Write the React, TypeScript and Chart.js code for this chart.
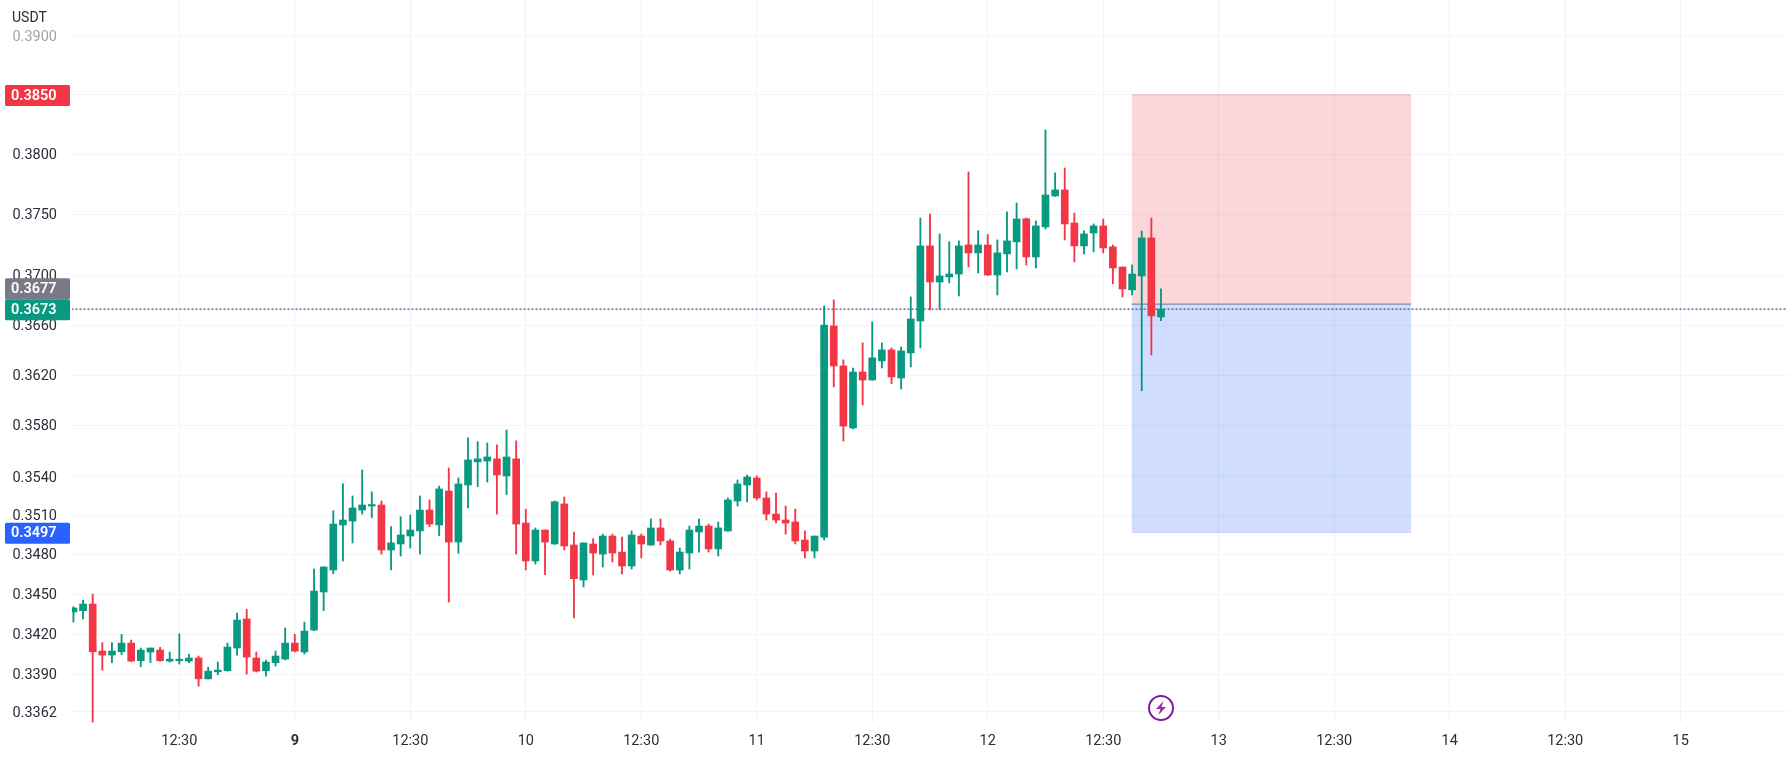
import React, { useEffect, useRef } from "react";
import { Chart, registerables } from "chart.js";

Chart.register(...registerables);

const opens = [
  0.34366, 0.34376, 0.34426, 0.34072, 0.34042, 0.34067, 0.34132, 0.34, 0.34065, 0.3408,
  0.33997, 0.34, 0.33997, 0.3402, 0.33865, 0.33917, 0.33925, 0.34095, 0.34313, 0.3402,
  0.33925, 0.33985, 0.34012, 0.34132, 0.34065, 0.3423, 0.34517, 0.34684, 0.35029, 0.35059,
  0.35144, 0.35175, 0.35183, 0.34837, 0.34883, 0.34944, 0.34983, 0.35144, 0.35029, 0.35291,
  0.34898, 0.35338, 0.35518, 0.35525, 0.35541, 0.35408, 0.35541, 0.35044, 0.34753, 0.3499,
  0.34883, 0.35191, 0.34875, 0.34608, 0.34883, 0.34806, 0.34944, 0.34821, 0.34715, 0.34944,
  0.34875, 0.35006, 0.34906, 0.34684, 0.34814, 0.34975, 0.35021, 0.34845, 0.34983, 0.35214,
  0.35338, 0.35392, 0.35237, 0.35113, 0.35067, 0.35052, 0.34913, 0.34829, 0.34936, 0.36594,
  0.36274, 0.35783, 0.36226, 0.36162, 0.36314, 0.36402, 0.36178, 0.36378, 0.36634, 0.37243,
  0.36949, 0.3699, 0.37014, 0.37251, 0.37186, 0.37251, 0.37006, 0.37178, 0.37276, 0.37466,
  0.37153, 0.37399, 0.37654, 0.37704, 0.37431, 0.37243, 0.37349, 0.37407, 0.37235, 0.37071,
  0.36885, 0.36998, 0.37309, 0.36666,
];

const closes = [
  0.34396, 0.34426, 0.34067, 0.34042, 0.34072, 0.34132, 0.33997, 0.3408, 0.34095, 0.34,
  0.34012, 0.34005, 0.3402, 0.33865, 0.33922, 0.3393, 0.34102, 0.34305, 0.34027, 0.33922,
  0.3399, 0.34035, 0.34132, 0.34072, 0.34222, 0.34524, 0.34707, 0.35036, 0.35067, 0.3516,
  0.35183, 0.35183, 0.34837, 0.34891, 0.34952, 0.3499, 0.35144, 0.35036, 0.35307, 0.34898,
  0.35346, 0.35533, 0.35541, 0.35556, 0.35416, 0.35556, 0.35036, 0.34753, 0.3499, 0.34898,
  0.35208, 0.34868, 0.34618, 0.34891, 0.34814, 0.34944, 0.34814, 0.34715, 0.34952, 0.34883,
  0.35006, 0.34906, 0.34684, 0.34821, 0.3499, 0.35021, 0.34845, 0.35006, 0.35222, 0.35346,
  0.354, 0.35237, 0.35113, 0.35067, 0.35044, 0.34906, 0.34829, 0.34944, 0.36602, 0.36274,
  0.35798, 0.36226, 0.36162, 0.36339, 0.36402, 0.36187, 0.36394, 0.3665, 0.37243, 0.36949,
  0.36998, 0.37014, 0.37243, 0.37186, 0.37251, 0.37006, 0.37186, 0.37284, 0.37464, 0.37153,
  0.37407, 0.37662, 0.37704, 0.37423, 0.37243, 0.37341, 0.37407, 0.37227, 0.37063, 0.36893,
  0.37014, 0.37309, 0.36675, 0.3673,
];

const highs = [
  0.34406, 0.34456, 0.34501, 0.34135, 0.34135, 0.34198, 0.34155, 0.34095, 0.34095, 0.341,
  0.34065, 0.34202, 0.3405, 0.34035, 0.33952, 0.3399, 0.34132, 0.34357, 0.34386, 0.34065,
  0.34005, 0.34072, 0.34245, 0.34198, 0.3429, 0.34692, 0.3471, 0.35138, 0.35348, 0.35253,
  0.35455, 0.35284, 0.35214, 0.35016, 0.35092, 0.35105, 0.35253, 0.35222, 0.3533, 0.3547,
  0.35392, 0.35705, 0.35676, 0.35666, 0.3565, 0.35767, 0.35682, 0.3515, 0.35006, 0.3499,
  0.35215, 0.35245, 0.34975, 0.34891, 0.34924, 0.34959, 0.34959, 0.34936, 0.34983, 0.34959,
  0.35075, 0.35075, 0.34921, 0.34852, 0.35021, 0.35075, 0.35036, 0.35052, 0.35237, 0.35377,
  0.35416, 0.35408, 0.35284, 0.35276, 0.35175, 0.35152, 0.34983, 0.34944, 0.36755, 0.36804,
  0.36323, 0.36258, 0.36458, 0.36626, 0.36458, 0.36418, 0.36426, 0.36828, 0.37472, 0.37505,
  0.37341, 0.37278, 0.37284, 0.37853, 0.37368, 0.37336, 0.37292, 0.37522, 0.37596, 0.37472,
  0.37448, 0.38204, 0.37845, 0.37886, 0.37513, 0.37366, 0.37423, 0.37464, 0.37251, 0.37071,
  0.37088, 0.37366, 0.37472, 0.36893,
];

const lows = [
  0.3429, 0.34313, 0.33545, 0.3393, 0.33985, 0.34045, 0.33992, 0.33955, 0.33985, 0.33997,
  0.3399, 0.33975, 0.33985, 0.33811, 0.33863, 0.33895, 0.33922, 0.34042, 0.339, 0.33915,
  0.33885, 0.3396, 0.34007, 0.34065, 0.3405, 0.34225, 0.34376, 0.34656, 0.34753, 0.34891,
  0.35113, 0.35085, 0.34806, 0.34684, 0.34791, 0.34852, 0.34806, 0.35016, 0.34947, 0.34441,
  0.34812, 0.3516, 0.35325, 0.35361, 0.35113, 0.35263, 0.34806, 0.34684, 0.3473, 0.34648,
  0.3488, 0.34837, 0.34321, 0.34555, 0.34646, 0.34707, 0.34745, 0.34654, 0.34692, 0.34776,
  0.34872, 0.34875, 0.34676, 0.34654, 0.34692, 0.34821, 0.34821, 0.34791, 0.3498, 0.35175,
  0.35207, 0.35222, 0.35067, 0.35044, 0.34959, 0.34883, 0.34776, 0.34776, 0.34913, 0.36107,
  0.35681, 0.35775, 0.35964, 0.3616, 0.36258, 0.36132, 0.36091, 0.36266, 0.36418, 0.36723,
  0.36725, 0.36943, 0.36836, 0.37071, 0.37022, 0.37002, 0.36844, 0.3703, 0.37055, 0.37088,
  0.37063, 0.37382, 0.3765, 0.37292, 0.37113, 0.37178, 0.37194, 0.37186, 0.36934, 0.36828,
  0.36844, 0.36077, 0.36362, 0.36636,
];

const yTickValues = [0.39, 0.385, 0.38, 0.375, 0.37, 0.366, 0.362, 0.358, 0.354, 0.351, 0.348, 0.345, 0.342, 0.339, 0.3362];
const xTickBars = [11, 23, 35, 47, 59, 71, 83, 95, 107, 119, 131, 143, 155, 167];
const xTickLabels = ["12:30", "9", "12:30", "10", "12:30", "11", "12:30", "12", "12:30", "13", "12:30", "14", "12:30", "15"];

const positionStartBar = 109.95;
const positionEndBar = 139;
const stopPrice = 0.385;
const entryPrice = 0.3677;
const targetPrice = 0.3497;
const lastPrice = 0.3673;
const signalBar = 113;

const UP = "#089981";
const DOWN = "#F23645";
const FONT = "Roboto, 'Liberation Sans', sans-serif";

const zeroPadding = (s: any) => {
  s.paddingTop = 0;
  s.paddingBottom = 0;
  s.paddingLeft = 0;
  s.paddingRight = 0;
};

const overlayPlugin = {
  id: "overlay",
  afterDraw(chart: any) {
    const { ctx, scales } = chart;
    const y = scales.y;
    const x = scales.x;
    ctx.save();

    // Axis unit
    ctx.fillStyle = "#2a2e39";
    ctx.font = `14px ${FONT}`;
    ctx.textAlign = "left";
    ctx.textBaseline = "middle";
    ctx.fillText("USDT", 12, 18);

    // Price badges
    const badges = [
      { value: stopPrice, color: "#F23645", shift: 0 },
      { value: entryPrice, color: "#787B86", shift: -16 },
      { value: lastPrice, color: "#089981", shift: 0 },
      { value: targetPrice, color: "#2962FF", shift: 0 },
    ];
    for (const b of badges) {
      const cy = y.getPixelForValue(b.value) + b.shift + 0.7;
      ctx.fillStyle = b.color;
      ctx.beginPath();
      ctx.roundRect(5, cy - 10.5, 65, 21, 1.5);
      ctx.fill();
      ctx.fillStyle = "#ffffff";
      ctx.font = `600 14.5px ${FONT}`;
      ctx.textAlign = "left";
      ctx.textBaseline = "middle";
      ctx.fillText(b.value.toFixed(4), 11, cy + 0.5);
    }

    // Signal icon
    const ix = x.getPixelForValue(signalBar);
    const iy = 708;
    ctx.strokeStyle = "#7B1FA2";
    ctx.lineWidth = 2;
    ctx.beginPath();
    ctx.arc(ix, iy, 12, 0, Math.PI * 2);
    ctx.stroke();
    ctx.fillStyle = "#9C27B0";
    ctx.beginPath();
    ctx.moveTo(ix + 2.5, iy - 7);
    ctx.lineTo(ix - 5, iy + 1);
    ctx.lineTo(ix - 0.5, iy + 1);
    ctx.lineTo(ix - 2.5, iy + 7);
    ctx.lineTo(ix + 5, iy - 1);
    ctx.lineTo(ix + 0.5, iy - 1);
    ctx.closePath();
    ctx.fill();
    ctx.restore();
  },
};

export default function App() {
  const ref = useRef<HTMLCanvasElement | null>(null);

  useEffect(() => {
    document.body.style.margin = "0";
    document.body.style.background = "#ffffff";
    const bars = opens.map((_, i) => i);
    const colors = bars.map((i) => (closes[i] >= opens[i] ? UP : DOWN));
    const zone = (value: number) => [
      { x: positionStartBar, y: value },
      { x: positionEndBar, y: value },
    ];
    const chart = new Chart(ref.current as HTMLCanvasElement, {
      type: "bar",
      data: {
        datasets: [
          {
            type: "line",
            data: zone(stopPrice),
            fill: { value: entryPrice },
            backgroundColor: "rgba(242,54,69,0.2)",
            borderColor: "rgba(242,54,69,0.3)",
            borderWidth: 1,
            pointRadius: 0,
            order: 5,
          },
          {
            type: "line",
            data: zone(targetPrice),
            fill: { value: entryPrice },
            backgroundColor: "rgba(41,98,255,0.22)",
            borderColor: "rgba(41,98,255,0.1)",
            borderWidth: 1,
            pointRadius: 0,
            order: 4,
          },
          {
            type: "line",
            data: zone(entryPrice),
            borderColor: "#6f7488",
            borderWidth: 1,
            pointRadius: 0,
            order: 3,
          },
          {
            type: "line",
            data: [
              { x: -0.2, y: lastPrice },
              { x: 178.1, y: lastPrice },
            ],
            borderColor: "#5a3a94",
            borderWidth: 1.3,
            borderDash: [2, 2],
            pointRadius: 0,
            order: 2,
          },
          {
            type: "bar",
            data: bars.map((i) => ({ x: i, y: [lows[i], highs[i]] })),
            backgroundColor: colors,
            barThickness: 1.2,
            grouped: false,
            order: 1,
          },
          {
            type: "bar",
            data: bars.map((i) => ({ x: i, y: [opens[i], closes[i]] })),
            backgroundColor: colors,
            barThickness: 7,
            minBarLength: 1.5,
            grouped: false,
            order: 0,
          },
        ],
      } as any,
      options: {
        animation: false,
        responsive: false,
        devicePixelRatio: 1,
        layout: { padding: 0, autoPadding: false },
        plugins: { legend: { display: false }, tooltip: { enabled: false } },
        scales: {
          x: {
            type: "linear",
            min: -0.15,
            max: 178.15,
            bounds: "data",
            offset: false,
            grid: { color: "#f1f2f5", drawTicks: false, offset: false },
            border: { display: false },
            afterBuildTicks: (s: any) => {
              s.ticks = xTickBars.map((value) => ({ value }));
            },
            afterFit: (s: any) => {
              s.height = 36;
              zeroPadding(s);
            },
            ticks: {
              autoSkip: false,
              maxRotation: 0,
              padding: 10,
              color: "#2a2e39",
              font: (c: any) => ({
                family: FONT,
                size: 14.5,
                weight: c.index === 1 ? "bold" : "normal",
              }),
              callback: (_v: any, i: number) => xTickLabels[i],
            },
          },
          y: {
            type: "logarithmic",
            position: "left",
            min: 0.33538,
            max: 0.3931,
            bounds: "data",
            grid: { color: "#f3f4f6", drawTicks: false },
            border: { display: false },
            afterBuildTicks: (s: any) => {
              s.ticks = yTickValues.map((value) => ({ value }));
            },
            afterFit: (s: any) => {
              s.width = 72;
              zeroPadding(s);
            },
            ticks: {
              autoSkip: false,
              padding: 15,
              labelOffset: 1,
              color: (c: any) => (c.index === 0 ? "rgba(42,46,57,0.45)" : "#2a2e39"),
              font: { family: FONT, size: 14.5 },
              callback: (v: any) => Number(v).toFixed(4),
            },
          },
        },
      } as any,
      plugins: [overlayPlugin],
    });
    return () => chart.destroy();
  }, []);

  return (
    <div style={{ position: "absolute", left: 0, top: 0, width: 1788, height: 759, background: "#fff" }}>
      <canvas ref={ref} width={1788} height={759} style={{ display: "block" }} />
    </div>
  );
}
